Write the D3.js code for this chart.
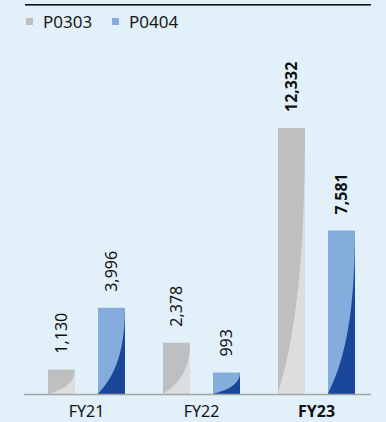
<!DOCTYPE html>
<html>
<head>
<meta charset="utf-8">
<script src="https://cdn.jsdelivr.net/npm/d3@7"></script>
<style>
  html, body { margin: 0; padding: 0; background: #e1f0f9; }
  svg { display: block; font-family: "Noto Sans", "Open Sans", sans-serif; }
</style>
</head>
<body>
<div class="chart"></div>
<script>
var years = ["FY21", "FY22", "FY23"];
var seriesNames = ["P0303", "P0404"];
var p0303 = [1130, 2378, 12332];
var p0404 = [3996, 993, 7581];
var boldYear = "FY23";

var width = 386, height = 422;
var baseY = 394;

var colors = {
  P0303: { top: "#bebfc1", low: "#dcdddf" },
  P0404: { top: "#84acdd", low: "#1b479b" }
};

var svg = d3.select(".chart").append("svg")
  .attr("width", width)
  .attr("height", height);

svg.append("rect").attr("width", width).attr("height", height).attr("fill", "#e1f0f9");

var x = d3.scaleBand().domain(years).range([29, 374]).padding(0);
var xSub = d3.scaleBand().domain(seriesNames).range([19, 96]).paddingInner(0.46).paddingOuter(0);
var y = d3.scaleLinear().domain([0, 12332]).range([baseY, 128]);

// top rule
svg.append("rect")
  .attr("x", 25).attr("y", 4)
  .attr("width", 346).attr("height", 1.6)
  .attr("fill", "#111");

// legend
var legend = svg.selectAll("g.legend").data(seriesNames).enter().append("g")
  .attr("class", "legend")
  .attr("transform", function(d, i) { return "translate(" + (26 + i * 86) + ",0)"; });
legend.append("rect")
  .attr("x", 0).attr("y", 18).attr("width", 7).attr("height", 7)
  .attr("fill", function(d) { return colors[d].top; });
legend.append("text")
  .attr("x", 17).attr("y", 28)
  .attr("font-size", 17)
  .attr("fill", "#1a1a1a")
  .text(function(d) { return d; });

// flatten data
var rows = [];
years.forEach(function(yr, i) {
  rows.push({ year: yr, series: "P0303", value: p0303[i] });
  rows.push({ year: yr, series: "P0404", value: p0404[i] });
});

var bars = svg.selectAll("g.bar").data(rows).enter().append("g").attr("class", "bar");

bars.append("rect")
  .attr("x", function(d) { return x(d.year) + xSub(d.series); })
  .attr("y", function(d) { return y(d.value); })
  .attr("width", xSub.bandwidth())
  .attr("height", function(d) { return baseY - y(d.value); })
  .attr("fill", function(d) { return colors[d.series].top; });

// curved lower-right part of each bar
bars.append("path")
  .attr("fill", function(d) { return colors[d.series].low; })
  .attr("d", function(d) {
    var x0 = x(d.year) + xSub(d.series), w = xSub.bandwidth(), x1 = x0 + w;
    var h = baseY - y(d.value), b = baseY;
    return "M" + x0 + "," + b +
      "C" + (x0 + 0.25 * w) + "," + (b - 0.1 * h) + " " +
      x1 + "," + (b - 0.3 * h) + " " + x1 + "," + (b - h) +
      "L" + x1 + "," + b + "Z";
  });

// value labels
bars.append("text")
  .attr("transform", function(d) {
    var cx = x(d.year) + xSub(d.series) + xSub.bandwidth() / 2;
    return "translate(" + cx + "," + (y(d.value) - 16) + ") rotate(-90)";
  })
  .attr("dy", "0.35em")
  .attr("font-size", 16)
  .attr("font-weight", function(d) { return d.year === boldYear ? "bold" : "normal"; })
  .attr("fill", "#111")
  .text(function(d) { return d3.format(",")(d.value); });

// baseline
svg.append("line")
  .attr("x1", 24).attr("x2", 371)
  .attr("y1", baseY + 0.5).attr("y2", baseY + 0.5)
  .attr("stroke", "#a3a5a8").attr("stroke-width", 1.5);

// category labels
svg.selectAll("text.cat").data(years).enter().append("text")
  .attr("class", "cat")
  .attr("x", function(d) { return x(d) + x.bandwidth() / 2; })
  .attr("y", 417)
  .attr("text-anchor", "middle")
  .attr("font-size", 16)
  .attr("font-weight", function(d) { return d === boldYear ? "bold" : "normal"; })
  .attr("fill", "#111")
  .text(function(d) { return d; });
</script>
</body>
</html>
